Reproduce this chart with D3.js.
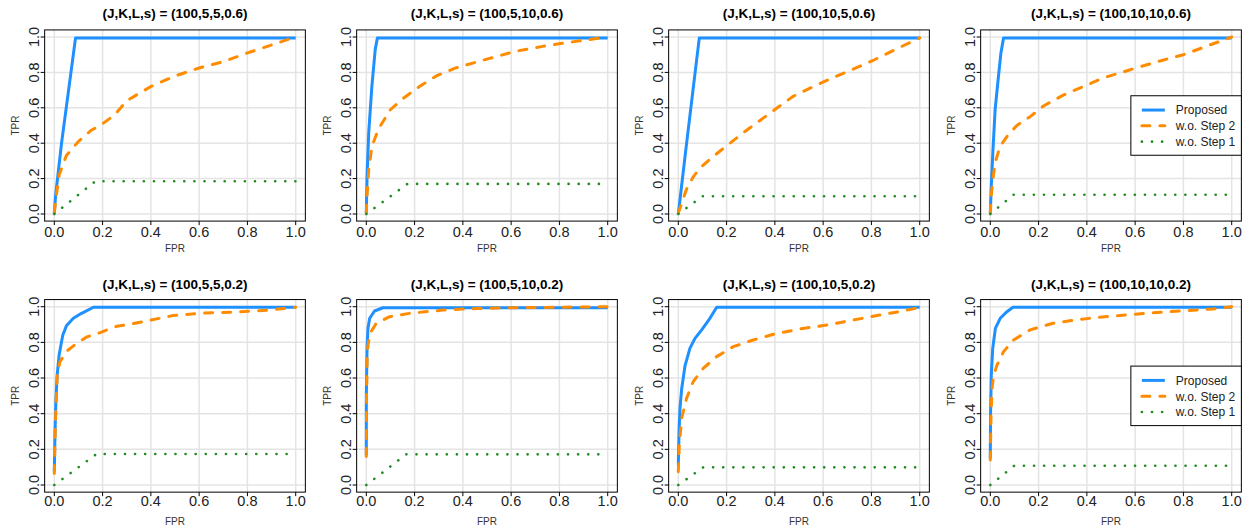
<!DOCTYPE html>
<html>
<head>
<meta charset="utf-8">
<script src="https://cdn.jsdelivr.net/npm/d3@7"></script>
<style>
  body { margin: 0; background: #fff; }
  svg { display: block; font-family: "Liberation Sans", Arial, sans-serif; }
</style>
</head>
<body>
<div id="container"></div>
<script>
/* DATA */
const panelTitles = [
  "(J,K,L,s) = (100,5,5,0.6)", "(J,K,L,s) = (100,5,10,0.6)",
  "(J,K,L,s) = (100,10,5,0.6)", "(J,K,L,s) = (100,10,10,0.6)",
  "(J,K,L,s) = (100,5,5,0.2)", "(J,K,L,s) = (100,5,10,0.2)",
  "(J,K,L,s) = (100,10,5,0.2)", "(J,K,L,s) = (100,10,10,0.2)"
];
const seriesNames = ["Proposed", "w.o. Step 2", "w.o. Step 1"];
const tickValues = [0, 0.2, 0.4, 0.6, 0.8, 1.0];
const tickLabels = ["0.0", "0.2", "0.4", "0.6", "0.8", "1.0"];

// [FPR, TPR] pairs, one array per panel
const proposed = [
  [[0,0],[0.005,0.1],[0.03,0.4],[0.088,0.995],[1,0.995]],
  [[0,0.005],[0.003,0.21],[0.01,0.46],[0.023,0.72],[0.037,0.93],[0.046,0.995],[1,0.995]],
  [[0,0],[0.03,0.35],[0.06,0.69],[0.087,0.995],[1,0.995]],
  [[0,0.005],[0.004,0.16],[0.011,0.36],[0.02,0.59],[0.034,0.78],[0.044,0.91],[0.055,0.995],[1,0.995]],
  [[0,0.075],[0.003,0.3],[0.007,0.486],[0.012,0.617],[0.02,0.73],[0.035,0.84],[0.051,0.895],[0.079,0.935],[0.113,0.963],[0.162,0.997],[1,0.997]],
  [[0,0.17],[0,0.49],[0.003,0.77],[0.007,0.88],[0.014,0.935],[0.034,0.976],[0.069,0.994],[1,0.994]],
  [[0,0.11],[0.003,0.3],[0.007,0.43],[0.014,0.54],[0.028,0.67],[0.048,0.766],[0.069,0.822],[0.097,0.87],[0.131,0.935],[0.159,0.997],[1,0.997]],
  [[0,0.15],[0.001,0.39],[0.004,0.617],[0.01,0.766],[0.021,0.878],[0.041,0.935],[0.069,0.972],[0.094,0.997],[1,0.997]]
];
const step2 = [
  [[0,0.01],[0.01,0.12],[0.02,0.22],[0.05,0.33],[0.1,0.41],[0.15,0.47],[0.2,0.51],[0.25,0.56],[0.3,0.64],[0.4,0.72],[0.5,0.78],[0.6,0.825],[0.7,0.86],[0.8,0.91],[0.9,0.955],[1,1]],
  [[0,0.005],[0.003,0.1],[0.01,0.25],[0.023,0.38],[0.05,0.48],[0.1,0.59],[0.155,0.655],[0.22,0.72],[0.29,0.78],[0.37,0.825],[0.46,0.86],[0.54,0.89],[0.62,0.92],[0.73,0.947],[0.84,0.97],[1,1]],
  [[0,0.005],[0.014,0.06],[0.034,0.14],[0.062,0.21],[0.09,0.26],[0.145,0.325],[0.2,0.385],[0.27,0.46],[0.34,0.53],[0.41,0.6],[0.476,0.665],[0.56,0.72],[0.64,0.77],[0.72,0.815],[0.81,0.87],[0.9,0.93],[1,0.995]],
  [[0,0.005],[0.004,0.1],[0.01,0.19],[0.02,0.29],[0.04,0.38],[0.07,0.44],[0.11,0.5],[0.165,0.55],[0.22,0.61],[0.3,0.67],[0.385,0.72],[0.47,0.77],[0.58,0.815],[0.69,0.86],[0.8,0.9],[0.91,0.955],[1,1]],
  [[0,0.065],[0.003,0.26],[0.007,0.45],[0.012,0.617],[0.023,0.69],[0.051,0.75],[0.093,0.795],[0.134,0.83],[0.19,0.855],[0.258,0.89],[0.327,0.905],[0.4,0.925],[0.49,0.95],[0.6,0.963],[0.74,0.97],[0.88,0.98],[1,0.997]],
  [[0,0.16],[0.001,0.49],[0.004,0.75],[0.011,0.82],[0.02,0.86],[0.041,0.907],[0.097,0.944],[0.18,0.963],[0.317,0.981],[0.455,0.99],[0.593,0.994],[0.73,0.996],[1,1]],
  [[0,0.075],[0.004,0.224],[0.014,0.374],[0.034,0.486],[0.062,0.58],[0.103,0.654],[0.159,0.72],[0.228,0.776],[0.31,0.813],[0.407,0.85],[0.517,0.878],[0.614,0.897],[0.724,0.925],[0.834,0.953],[0.93,0.976],[1,0.996]],
  [[0,0.14],[0.003,0.39],[0.007,0.54],[0.014,0.617],[0.028,0.673],[0.055,0.748],[0.096,0.813],[0.165,0.87],[0.26,0.907],[0.371,0.929],[0.509,0.948],[0.646,0.963],[0.784,0.976],[0.922,0.987],[1,1]]
];
const step1 = [
  [[0,0],[0.17,0.185],[1,0.185]],
  [[0,0],[0.17,0.17],[1,0.17]],
  [[0,0],[0.1,0.1],[1,0.1]],
  [[0,0],[0.096,0.109],[1,0.109]],
  [[0,0],[0.175,0.174],[1,0.174]],
  [[0,0],[0.165,0.172],[1,0.172]],
  [[0,0],[0.103,0.099],[1,0.099]],
  [[0,0],[0.099,0.108],[1,0.108]]
];

/* LAYOUT */
const width = 1248, height = 527;
const colWidth = 312;
const plotX = { zero: 54.3, one: 295.7 };                    // x of FPR 0 and 1 inside a column
const rows = [ { zero: 214, one: 37, title: 17.5, xlab: 237.2, xtitle: 252 },
               { zero: 485, one: 306.7, title: 289, xlab: 505.5, xtitle: 524.5 } ];
const colors = ["#1E90FF", "#FF8C00", "#228B22"];
const dashes = [null, "8,10", "0.1,10"];
const widths = [3, 3, 2.6];

const svg = d3.select("#container")
  .append("svg")
  .attr("width", width)
  .attr("height", height);

panelTitles.forEach((title, i) => {
  const col = i % 4, row = rows[Math.floor(i / 4)];
  const x = d3.scaleLinear().domain([0, 1]).range([plotX.zero + col * colWidth, plotX.one + col * colWidth]);
  const y = d3.scaleLinear().domain([0, 1]).range([row.zero, row.one]);
  const g = svg.append("g");
  const x0 = x(-0.04), x1 = x(1.04), y0 = y(-0.04), y1 = y(1.04);

  // grid
  g.selectAll("line.gx").data(tickValues).join("line")
    .attr("x1", d => x(d)).attr("x2", d => x(d))
    .attr("y1", y0).attr("y2", y1)
    .attr("stroke", "#e4e4e4").attr("stroke-width", 1.5);
  g.selectAll("line.gy").data(tickValues).join("line")
    .attr("y1", d => y(d)).attr("y2", d => y(d))
    .attr("x1", x0).attr("x2", x1)
    .attr("stroke", "#e4e4e4").attr("stroke-width", 1.5);

  // curves
  const line = d3.line().x(d => x(d[0])).y(d => y(d[1]));
  [proposed[i], step2[i], step1[i]].forEach((pts, s) => {
    g.append("path")
      .attr("d", line(pts))
      .attr("fill", "none")
      .attr("stroke", colors[s])
      .attr("stroke-width", widths[s])
      .attr("stroke-linejoin", "round")
      .attr("stroke-linecap", s === 0 ? "butt" : "round")
      .attr("stroke-dasharray", dashes[s]);
  });

  // box
  g.append("rect")
    .attr("x", x0).attr("y", y1)
    .attr("width", x1 - x0).attr("height", y0 - y1)
    .attr("fill", "none").attr("stroke", "#000").attr("stroke-width", 1);

  // x axis ticks + labels
  g.selectAll("line.tx").data(tickValues).join("line")
    .attr("x1", d => x(d)).attr("x2", d => x(d))
    .attr("y1", y0).attr("y2", y0 + 4)
    .attr("stroke", "#000");
  g.selectAll("text.tx").data(tickValues).join("text")
    .attr("x", d => x(d)).attr("y", row.xlab)
    .attr("text-anchor", "middle")
    .attr("font-size", 14.5)
    .attr("fill", "#222")
    .text((d, k) => tickLabels[k]);

  // y axis ticks + labels (rotated)
  g.selectAll("line.ty").data(tickValues).join("line")
    .attr("y1", d => y(d)).attr("y2", d => y(d))
    .attr("x1", x0).attr("x2", x0 - 4)
    .attr("stroke", "#000");
  g.selectAll("text.ty").data(tickValues).join("text")
    .attr("transform", d => `translate(${x0 - 5.5},${y(d)}) rotate(-90)`)
    .attr("text-anchor", "middle")
    .attr("font-size", 14.5)
    .attr("fill", "#222")
    .text((d, k) => tickLabels[k]);

  // titles
  g.append("text")
    .attr("x", (x0 + x1) / 2).attr("y", row.title)
    .attr("text-anchor", "middle")
    .attr("font-size", 13.5).attr("font-weight", "bold")
    .text(title);
  g.append("text")
    .attr("x", (x0 + x1) / 2).attr("y", row.xtitle)
    .attr("text-anchor", "middle")
    .attr("font-size", 10).attr("fill", "#333")
    .text("FPR");
  g.append("text")
    .attr("transform", `translate(${x0 - 26},${(y0 + y1) / 2}) rotate(-90)`)
    .attr("text-anchor", "middle")
    .attr("font-size", 10).attr("fill", "#333")
    .text("TPR");

  // legend in the rightmost column
  if (col === 3) {
    const lw = 110.5, lh = 59.5;
    const lx = x1 - lw, ly = (y0 + y1) / 2 - lh / 2;
    const lg = g.append("g").attr("transform", `translate(${lx},${ly})`);
    lg.append("rect").attr("width", lw).attr("height", lh)
      .attr("fill", "#fff").attr("stroke", "#000").attr("stroke-width", 1);
    seriesNames.forEach((name, s) => {
      const ry = 14.3 + s * 15.8;
      lg.append("line")
        .attr("x1", 11).attr("x2", 34).attr("y1", ry).attr("y2", ry)
        .attr("stroke", colors[s]).attr("stroke-width", widths[s])
        .attr("stroke-linecap", s === 0 ? "butt" : "round")
        .attr("stroke-dasharray", dashes[s]);
      lg.append("text")
        .attr("x", 45).attr("y", ry).attr("dy", "0.36em")
        .attr("font-size", 12).attr("fill", "#222")
        .text(name);
    });
  }
});
</script>
</body>
</html>
